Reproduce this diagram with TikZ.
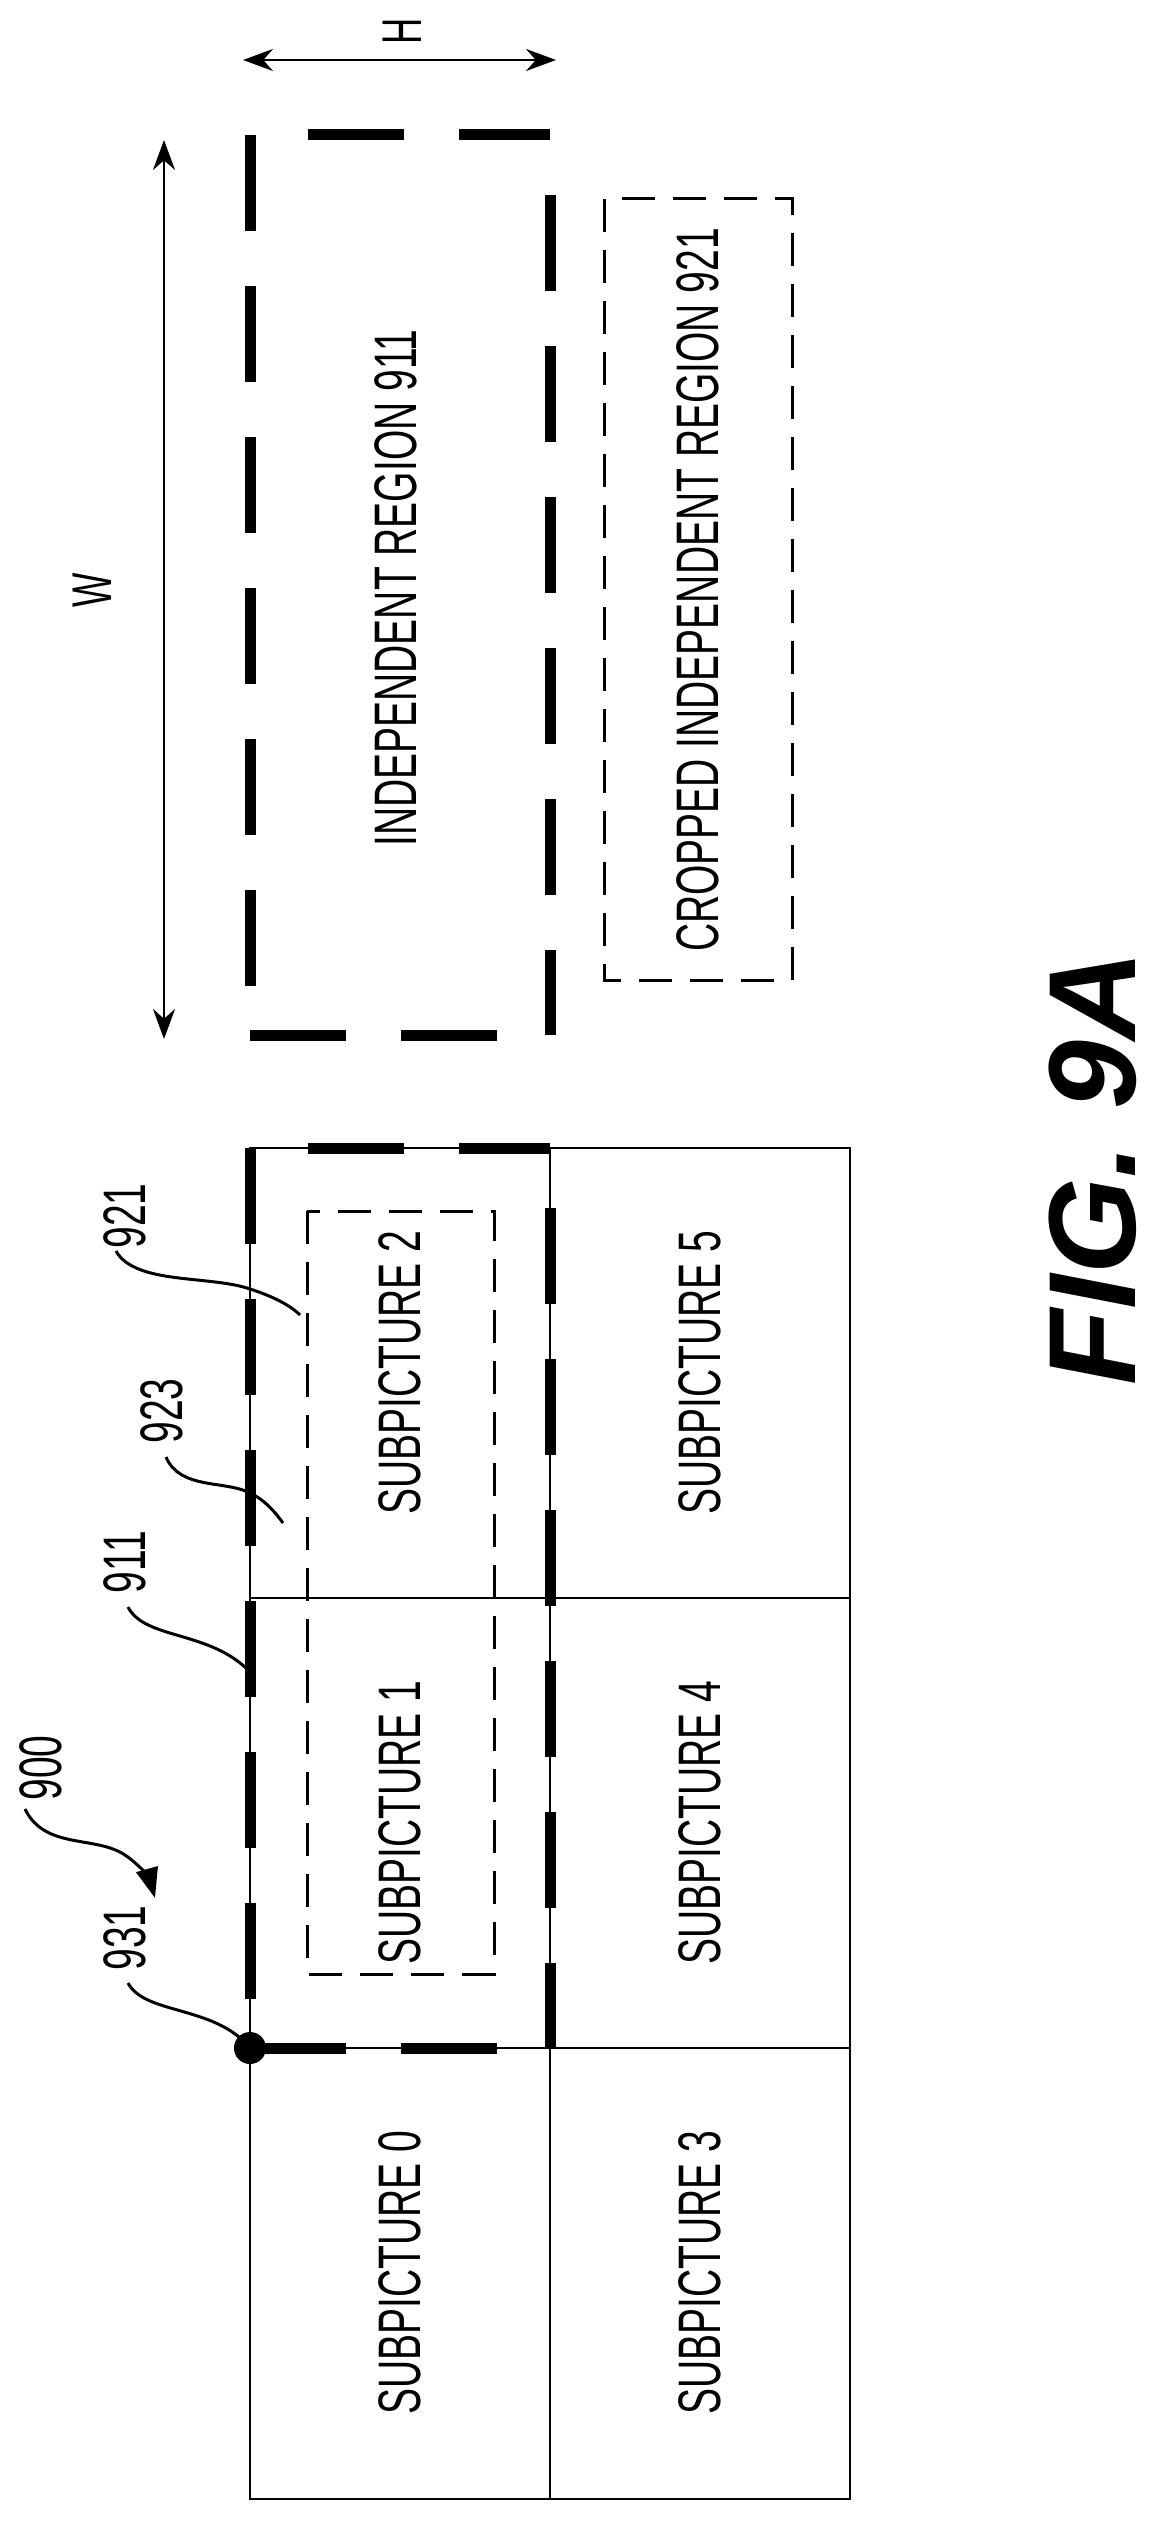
\documentclass[tikz,border=0pt]{standalone}
\usepackage{fontspec}
\setmainfont{Liberation Sans}
\newfontfamily\cond[FakeStretch=0.65]{Liberation Sans}
\usetikzlibrary{arrows.meta}
\begin{document}
\begin{tikzpicture}[x=1pt,y=-1pt,
  thin line/.style={line width=2.5pt},
  thick dash/.style={line width=11pt,dash pattern=on 96pt off 55pt},
  crop dash/.style={line width=3pt,dash pattern=on 33pt off 18pt},
  txt/.style={font=\fontsize{60}{60}\cond, rotate=90, inner sep=0pt},
  lead/.style={line width=3pt},
  dim/.style={line width=2.5pt,{Stealth[length=30pt,width=22pt]}-{Stealth[length=30pt,width=22pt]}}]
\useasboundingbox (0,0) rectangle (1160,2523);
% grid
\draw[thin line] (250,1148) rectangle (850,2499);
\draw[thin line] (550,1148) -- (550,2499);
\draw[thin line] (250,1598) -- (850,1598);
\draw[thin line] (250,2048) -- (850,2048);
\node[txt] (s0) at (400,2273) {SUBPICTURE 0};
\node[txt] (s1) at (400,1823) {SUBPICTURE 1};
\node[txt] (s2) at (400,1373) {SUBPICTURE 2};
\node[txt] (s3) at (700,2273) {SUBPICTURE 3};
\node[txt] (s4) at (700,1823) {SUBPICTURE 4};
\node[txt] (s5) at (700,1373) {SUBPICTURE 5};
% independent region copies
\foreach \dy in {0,1013}{
  \begin{scope}[yshift=-\dy pt]
  \draw[thick dash] (250,135) -- (250,1035);
  \draw[thick dash] (550,195) -- (550,1035);
  \draw[thick dash] (308,135) -- (550,135);
  \draw[thick dash] (250,1035) -- (550,1035);
  \end{scope}}
\draw[crop dash] (307,1211) rectangle (494,1974);
\draw[crop dash] (604,199) rectangle (792,980);
\node[txt] (ir) at (396,588) {INDEPENDENT REGION 911};
\node[txt] (cir) at (698,590) {CROPPED INDEPENDENT REGION 921};
% dimensions
\coordinate (wa) at (164,140); \coordinate (wb) at (164,1039);
\draw[dim] (wa) -- (wb);
\node[txt,font=\fontsize{56}{56}\cond] (W) at (92,590) {W};
\coordinate (ha) at (243,60); \coordinate (hb) at (556,60);
\draw[dim] (ha) -- (hb);
\node[txt,font=\fontsize{56}{56}\cond] (H) at (402,31) {H};
% corner dot
\fill (250,2048) circle (16pt);
\coordinate (dot) at (250,2048);
% labels
\node[txt] (l921) at (125,1216) {921};
\node[txt] (l923) at (162,1411) {923};
\node[txt] (l911) at (125,1562) {911};
\node[txt] (l900) at (41,1768) {900};
\node[txt] (l931) at (125,1938) {931};
\coordinate (e921) at (300,1315);
\coordinate (e923) at (283,1523);
\coordinate (e911) at (250,1672);
\coordinate (e900) at (155,1898);
\draw[lead] (116,1251) .. controls (135,1285) and (210,1275) .. (250,1289) .. controls (272,1296) and (290,1305) .. (e921);
\draw[lead] (166,1457) .. controls (180,1490) and (225,1480) .. (250,1493) .. controls (265,1500) and (275,1512) .. (e923);
\draw[lead] (128,1607) .. controls (145,1640) and (210,1630) .. (e911);
\draw[lead,-{Triangle[length=30pt,width=22pt]}] (25,1809) .. controls (45,1850) and (95,1835) .. (125,1855) .. controls (140,1865) and (150,1880) .. (e900);
\draw[lead] (128,1983) .. controls (145,2015) and (215,2005) .. (dot);
\node[rotate=90,inner sep=0pt,font=\fontsize{124}{124}\selectfont\bfseries\itshape] (fig) at (1093,1168) {FIG. 9A};
\end{tikzpicture}
\end{document}
